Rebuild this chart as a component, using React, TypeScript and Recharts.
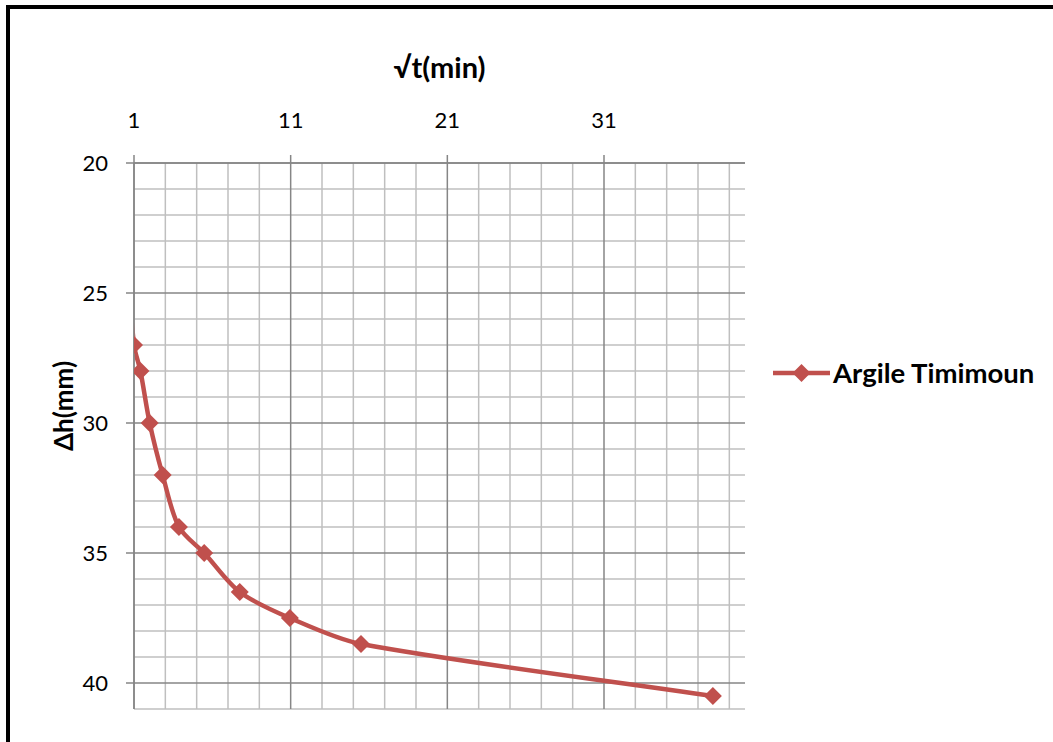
import React from 'react';
import { LineChart, Line, XAxis, YAxis, ReferenceLine } from 'recharts';

// √t (min) values and settlement readings Δh (mm)
const sqrtT = [0, 1, 1.41, 2, 2.83, 3.87, 5.48, 7.75, 10.95, 15.49, 37.95];
const deltaH = [20, 27, 28, 30, 32, 34, 35, 36.5, 37.5, 38.5, 40.5];
const seriesName = 'Argile Timimoun';

const xTicks = [1, 11, 21, 31];
const xMinorGrid = [3, 5, 7, 9, 13, 15, 17, 19, 23, 25, 27, 29, 33, 35, 37, 39];
const yTicks = [20, 25, 30, 35, 40];
const yMinorGrid = [21, 22, 23, 24, 26, 27, 28, 29, 31, 32, 33, 34, 36, 37, 38, 39, 41];

const data = sqrtT.map((x, i) => ({ x, y: deltaH[i] }));

const RED = '#C0504D';
const MAJOR = '#868686';
const MINOR = '#BFBFBF';
const FONT = 'Lato, "Open Sans", sans-serif';

// Smoothed line in the manner of a spreadsheet "smoothed line":
// tangent direction from neighbours, handle length proportional to each segment.
function smoothCurve(context: any) {
  let pts: [number, number][] = [];
  const K = 0.3;
  const unit = (a: [number, number], b: [number, number]) => {
    const dx = b[0] - a[0];
    const dy = b[1] - a[1];
    const l = Math.hypot(dx, dy) || 1;
    return [dx / l, dy / l];
  };
  return {
    areaStart() {},
    areaEnd() {},
    lineStart() {
      pts = [];
    },
    lineEnd() {
      if (!pts.length) return;
      context.moveTo(pts[0][0], pts[0][1]);
      for (let i = 0; i < pts.length - 1; i++) {
        const p0 = pts[i - 1] || pts[i];
        const p1 = pts[i];
        const p2 = pts[i + 1];
        const p3 = pts[i + 2] || p2;
        const len = Math.hypot(p2[0] - p1[0], p2[1] - p1[1]);
        const t1 = unit(p0, p2);
        const t2 = unit(p1, p3);
        const c1x = p1[0] + t1[0] * len * K;
        const c1y = p1[1] + t1[1] * len * K;
        const c2x = p2[0] - t2[0] * len * K;
        const c2y = p2[1] - t2[1] * len * K;
        context.bezierCurveTo(c1x, c1y, c2x, c2y, p2[0], p2[1]);
      }
    },
    point(x: number, y: number) {
      pts.push([+x, +y]);
    },
  };
}

const Diamond = (props: any) => {
  const { cx, cy } = props;
  if (cx == null || cy == null || isNaN(cx) || isNaN(cy)) return null;
  const r = 9;
  return (
    <path
      key={`d-${props.index}`}
      d={`M${cx},${cy - r}L${cx + r},${cy}L${cx},${cy + r}L${cx - r},${cy}Z`}
      fill={RED}
      stroke="none"
    />
  );
};

const LegendBox = () => (
  <div
    style={{
      position: 'absolute',
      left: 773,
      top: 358,
      display: 'flex',
      alignItems: 'center',
      fontFamily: FONT,
    }}
  >
    <svg width={60} height={30} style={{ display: 'block' }}>
      <line x1={0} y1={15} x2={57} y2={15} stroke={RED} strokeWidth={4.5} />
      <path d="M28.5,6L37.5,15L28.5,24L19.5,15Z" fill={RED} />
    </svg>
    <span style={{ fontWeight: 'bold', fontSize: 27.5, color: '#000', whiteSpace: 'nowrap', lineHeight: '30px' }}>
      {seriesName}
    </span>
  </div>
);

export default function App() {
  return (
    <div style={{ position: 'absolute', left: 0, top: 0, width: 1053, height: 742, background: '#fff', overflow: 'hidden' }}>
      <div
        style={{
          position: 'absolute',
          left: 6,
          top: 5,
          width: 1047,
          height: 737,
          borderLeft: '4px solid #000',
          borderTop: '4px solid #000',
          boxSizing: 'border-box',
        }}
      />
      <LineChart
        width={1053}
        height={742}
        data={data}
        margin={{ top: 0, right: 308, bottom: 33, left: 0 }}
        style={{ position: 'absolute', left: 0, top: 0 }}
      >
        {xMinorGrid.map((v) => (
          <ReferenceLine key={`xm${v}`} x={v} stroke={MINOR} strokeWidth={1.5} />
        ))}
        {yMinorGrid.map((v) => (
          <ReferenceLine key={`ym${v}`} y={v} stroke={MINOR} strokeWidth={1.5} />
        ))}
        {xTicks.map((v) => (
          <ReferenceLine key={`xM${v}`} x={v} stroke={MAJOR} strokeWidth={1.5} />
        ))}
        {yTicks.map((v) => (
          <ReferenceLine key={`yM${v}`} y={v} stroke={MAJOR} strokeWidth={1.5} />
        ))}
        <XAxis
          dataKey="x"
          type="number"
          orientation="top"
          domain={[1, 40]}
          ticks={xTicks}
          allowDataOverflow
          height={163}
          tickSize={8}
          tickMargin={27}
          axisLine={{ stroke: MAJOR, strokeWidth: 1.5 }}
          tickLine={{ stroke: MAJOR, strokeWidth: 1.5 }}
          tick={{ fill: '#000', fontSize: 22, fontFamily: FONT }}
          label={(p: any) => {
            const vb = p.viewBox || {};
            return (
              <text
                x={vb.x + vb.width / 2}
                y={78}
                textAnchor="middle"
                fontFamily={FONT}
                fontSize={29}
                fontWeight="bold"
                fill="#000"
              >
                √t(min)
              </text>
            );
          }}
        />
        <YAxis
          dataKey="y"
          type="number"
          reversed
          domain={[20, 41]}
          ticks={yTicks}
          allowDataOverflow
          width={134}
          tickSize={8}
          tickMargin={18}
          axisLine={{ stroke: MAJOR, strokeWidth: 1.5 }}
          tickLine={{ stroke: MAJOR, strokeWidth: 1.5 }}
          tick={{ fill: '#000', fontSize: 22, fontFamily: FONT }}
          label={() => (
            <text
              x={73}
              y={406}
              transform="rotate(-90, 73, 406)"
              textAnchor="middle"
              fontFamily={FONT}
              fontSize={26}
              fontWeight="bold"
              fill="#000"
            >
              Δh(mm)
            </text>
          )}
        />
        <Line
          dataKey="y"
          name={seriesName}
          type={smoothCurve as any}
          stroke={RED}
          strokeWidth={4.5}
          dot={Diamond}
          activeDot={false}
          isAnimationActive={false}
        />
      </LineChart>
      <LegendBox />
    </div>
  );
}
